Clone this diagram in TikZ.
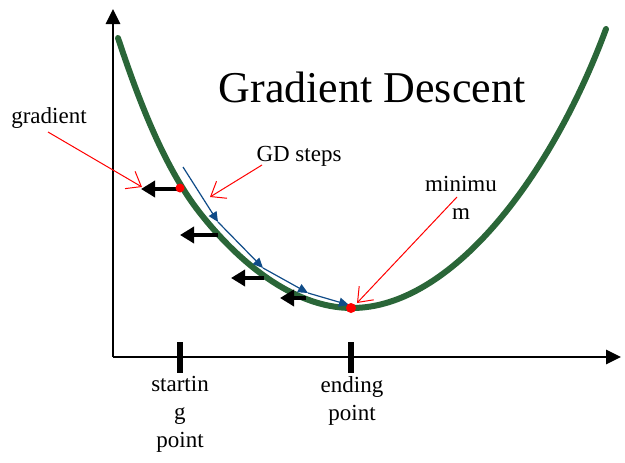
\documentclass[tikz,border=0pt]{standalone}
\usepackage{fontspec}
\setmainfont{Liberation Serif}
\usetikzlibrary{arrows.meta}
\definecolor{curvegreen}{RGB}{42,102,56}
\definecolor{stepblue}{RGB}{16,76,136}
\tikzset{
  axisline/.style={line width=2.6pt,-{Triangle[length=15pt,width=14pt]}},
  tickmark/.style={line width=6pt},
  costcurve/.style={curvegreen,line width=6pt,line cap=round},
  gradarrow/.style={line width=4pt,-{Triangle[length=14pt,width=16pt]}},
  steparrow/.style={stepblue,line width=1.2pt,-{Triangle[length=10pt,width=9pt]}},
  callout/.style={red,line width=1pt,-{Straight Barb[length=13pt,width=20pt]}},
  lbl/.style={font=\fontsize{23}{28}\selectfont,inner sep=0pt,align=center},
  dot/.style={circle,fill=red,inner sep=0pt,minimum size=#1}
}
\begin{document}
\begin{tikzpicture}[x=1pt,y=-1pt]
\useasboundingbox (0,0) rectangle (625,463);
% axes
\coordinate (O) at (113,357);
\coordinate (ytop) at (113,9);
\coordinate (xend) at (621,357);
\draw[axisline] (O) -- (ytop);
\draw[axisline] (O) -- (xend);
% ticks
\coordinate (t1a) at (180,342); \coordinate (t1b) at (180,373);
\coordinate (t2a) at (351,342); \coordinate (t2b) at (351,373);
\draw[tickmark] (t1a) -- (t1b);
\draw[tickmark] (t2a) -- (t2b);
% curve
\coordinate (cA) at (118,38);
\coordinate (cB) at (200,213);
\coordinate (cM) at (352,308);
\coordinate (cE) at (606,29);
\draw[costcurve] (cA) .. controls (137,95) and (163,166) .. (cB)
  .. controls (237,260) and (292,308) .. (cM)
  .. controls (450,308) and (550,180) .. (cE);
% blue steps
\coordinate (b0) at (183,167);
\coordinate (b1) at (218,222);
\coordinate (b2) at (263,268);
\coordinate (b3) at (308,293);
\coordinate (b4) at (349,305);
\draw[steparrow] (b0) -- (b1);
\draw[steparrow] (b1) -- (b2);
\draw[steparrow] (b2) -- (b3);
\draw[steparrow] (b3) -- (b4);
% gradient arrows
\coordinate (g1t) at (180,189); \coordinate (g1h) at (141,189);
\coordinate (g2t) at (218,235); \coordinate (g2h) at (180,235);
\coordinate (g3t) at (264,278); \coordinate (g3h) at (231,278);
\coordinate (g4t) at (306,298); \coordinate (g4h) at (280,298);
\draw[gradarrow] (g1t) -- (g1h);
\draw[gradarrow] (g2t) -- (g2h);
\draw[gradarrow] (g3t) -- (g3h);
\draw[gradarrow] (g4t) -- (g4h);
% red dots
\node[dot=9pt] (start) at (180,188) {};
\node[dot=10pt] (minpt) at (351,308) {};
% labels
\node[inner sep=0pt,font=\fontsize{44}{50}\selectfont] (title) at (372,87) {Gradient Descent};
\node[lbl] (gradlbl) at (49,118) {gradient};
\node[lbl] (gdlbl) at (299,156) {GD steps};
\node[lbl] (minlbl) at (461,198) {minimu\\m};
\node[lbl,anchor=north] (startlbl) at (180,376) {startin\\g\\point};
\node[lbl,anchor=north] (endlbl) at (352,376) {ending\\point};
% callouts
\coordinate (c1s) at (48,132); \coordinate (c1e) at (142,187);
\coordinate (c2s) at (262,165); \coordinate (c2e) at (210,197);
\coordinate (c3s) at (457,197); \coordinate (c3e) at (357,303);
\draw[callout] (c1s) -- (c1e);
\draw[callout] (c2s) -- (c2e);
\draw[callout] (c3s) -- (c3e);
\end{tikzpicture}
\end{document}
